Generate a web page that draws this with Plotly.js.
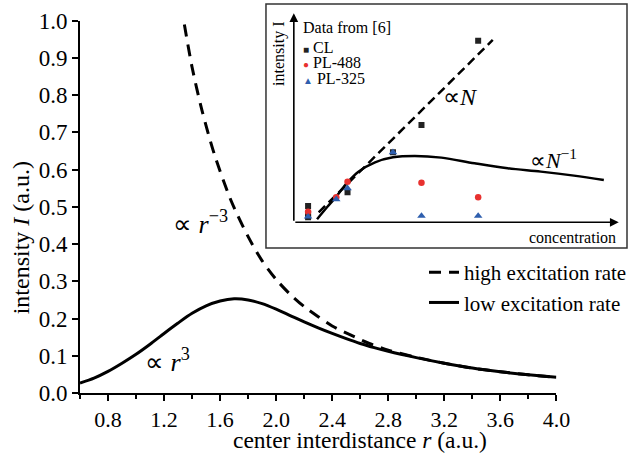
<!DOCTYPE html>
<html>
<head>
<meta charset="utf-8">
<script src="https://cdn.plot.ly/plotly-3.0.1.min.js"></script>
<style>html,body{margin:0;padding:0;background:#fff}#chart{width:632px;height:454px}</style>
</head>
<body>
<div id="chart"></div>
<script>
// ---- main chart data ----
const lowR = [0.60, 0.70, 0.80, 0.90, 1.00, 1.10, 1.20, 1.30, 1.40, 1.50, 1.60, 1.70, 1.80, 1.90, 2.00, 2.10, 2.20, 2.30, 2.40, 2.50, 2.60, 2.70, 2.80, 3.00, 3.20, 3.40, 3.60, 3.80, 4.00];
const lowI = [0.027, 0.040, 0.058, 0.080, 0.104, 0.131, 0.160, 0.188, 0.214, 0.234, 0.247, 0.253, 0.250, 0.240, 0.225, 0.208, 0.191, 0.175, 0.160, 0.146, 0.133, 0.122, 0.112, 0.095, 0.080, 0.067, 0.057, 0.049, 0.042];
const highR = [1.345, 1.40, 1.47, 1.56, 1.68, 1.80, 1.90, 2.00, 2.10, 2.20, 2.30, 2.40, 2.53, 2.66, 2.80, 3.00, 3.20, 3.40, 3.60, 3.80, 4.00];
const highI = [0.99, 0.875, 0.76, 0.64, 0.515, 0.42, 0.355, 0.305, 0.265, 0.232, 0.205, 0.180, 0.156, 0.134, 0.115, 0.096, 0.080, 0.067, 0.057, 0.049, 0.042];
const xTickVals = [0.8, 1.2, 1.6, 2.0, 2.4, 2.8, 3.2, 3.6, 4.0];
const yTickVals = [0.0, 0.1, 0.2, 0.3, 0.4, 0.5, 0.6, 0.7, 0.8, 0.9, 1.0];

// ---- inset data (arbitrary concentration / intensity units) ----
const clX = [0.43, 0.43, 0.43, 1.62, 2.99, 3.85, 5.56];
const clY = [0.49, 0.24, 0.15, 0.90, 2.10, 2.92, 5.45];
const pl488X = [0.43, 1.28, 1.62, 3.85, 5.56];
const pl488Y = [0.32, 0.75, 1.22, 1.19, 0.75];
const pl325X = [0.43, 1.28, 1.62, 2.99, 3.85, 5.56];
const pl325Y = [0.17, 0.69, 1.02, 2.10, 0.19, 0.19];
const linX = [0.75, 6.00];
const linY = [0.30, 5.47];
const satX = [0.70, 1.00, 1.28, 1.62, 1.95, 2.45, 2.99, 3.65, 4.45, 5.45, 6.45, 7.45, 8.45, 9.35];
const satY = [0.09, 0.45, 0.77, 1.20, 1.52, 1.80, 1.95, 1.99, 1.94, 1.77, 1.62, 1.52, 1.40, 1.27];

const FONT = 'Liberation Serif, Times New Roman, serif';
const RED = '#e8312f', BLUE = '#2f5fae', BLK = '#222222';

const traces = [
  {x: highR, y: highI, mode: 'lines', name: 'high excitation rate', line: {color: '#000', width: 3, dash: '12px,8px', shape: 'spline', smoothing: 0.8}, xaxis: 'x', yaxis: 'y'},
  {x: lowR, y: lowI, mode: 'lines', name: 'low excitation rate', line: {color: '#000', width: 3, shape: 'spline', smoothing: 0.8}, xaxis: 'x', yaxis: 'y'},
  {x: linX, y: linY, mode: 'lines', showlegend: false, line: {color: '#000', width: 2.5, dash: '9px,5px'}, xaxis: 'x2', yaxis: 'y2'},
  {x: satX, y: satY, mode: 'lines', showlegend: false, line: {color: '#000', width: 2.5, shape: 'spline'}, xaxis: 'x2', yaxis: 'y2'},
  {x: clX, y: clY, mode: 'markers', name: 'CL', showlegend: false, marker: {symbol: 'square', size: 6, color: BLK}, xaxis: 'x2', yaxis: 'y2'},
  {x: pl488X, y: pl488Y, mode: 'markers', name: 'PL-488', showlegend: false, marker: {symbol: 'circle', size: 6.5, color: RED}, xaxis: 'x2', yaxis: 'y2'},
  {x: pl325X, y: pl325Y, mode: 'markers', name: 'PL-325', showlegend: false, marker: {symbol: 'triangle-up', size: 7.5, color: BLUE}, xaxis: 'x2', yaxis: 'y2'}
];

function px2paperX(p) { return (p - 80) / 550; }
function px2paperY(p) { return (393 - p) / 393; }
function note(px, py, text, size, extra) {
  return Object.assign({xref: 'paper', yref: 'paper', x: px2paperX(px), y: px2paperY(py), xanchor: 'left', yanchor: 'middle', text: text, showarrow: false, font: {family: FONT, size: size, color: '#000'}}, extra || {});
}

const layout = {
  width: 632, height: 454,
  margin: {l: 80, r: 2, t: 0, b: 61},
  paper_bgcolor: '#fff', plot_bgcolor: 'rgba(0,0,0,0)',
  font: {family: FONT, color: '#000', size: 21},
  showlegend: true,
  legend: {x: px2paperX(426), y: px2paperY(252), xanchor: 'left', yanchor: 'top', bgcolor: 'rgba(0,0,0,0)', font: {family: FONT, size: 21, color: '#000'}, tracegroupgap: 0},
  xaxis: {
    domain: [0, 0.8709], range: [0.6, 4.0], showline: true, linewidth: 2, linecolor: '#000',
    ticks: 'outside', ticklen: 6, tickwidth: 2, tickcolor: '#000',
    tickvals: xTickVals, tickformat: '.1f', showgrid: false, zeroline: false,
    tickfont: {family: FONT, size: 22},
    minor: {dtick: 0.2, tick0: 0.6, ticks: 'outside', ticklen: 4, tickwidth: 2, tickcolor: '#000', showgrid: false},
    anchor: 'y'
  },
  yaxis: {
    domain: [0, 0.9473], range: [0, 1.0], showline: true, linewidth: 2, linecolor: '#000',
    ticks: 'outside', ticklen: 6, tickwidth: 2, tickcolor: '#000',
    tickvals: yTickVals, tickformat: '.1f', showgrid: false, zeroline: false,
    tickfont: {family: FONT, size: 23},
    anchor: 'x'
  },
  xaxis2: {domain: [px2paperX(295), px2paperX(621.7)], range: [0, 9.8], anchor: 'y2', showline: false, showticklabels: false, ticks: '', showgrid: false, zeroline: false, fixedrange: true},
  yaxis2: {domain: [px2paperY(222.3), px2paperY(13.3)], range: [0, 6.27], anchor: 'x2', showline: false, showticklabels: false, ticks: '', showgrid: false, zeroline: false, fixedrange: true},
  shapes: [
    {type: 'rect', xref: 'paper', yref: 'paper', x0: px2paperX(267), x1: px2paperX(630), y0: px2paperY(248), y1: px2paperY(4), line: {color: '#333', width: 1.5}, fillcolor: '#fff', layer: 'below'}
  ],
  annotations: [
    // main axis titles
    note(362, 440, 'center interdistance <i>r</i> (a.u.)', 23.5, {xanchor: 'center'}),
    note(21, 238, 'intensity <i>I</i> (a.u.)', 24, {xanchor: 'center', textangle: -90}),
    // inset axes with arrows
    {xref: 'x2', yref: 'y2', x: 9.8, y: 0, axref: 'x2', ayref: 'y2', ax: 0, ay: 0, text: '', showarrow: true, arrowhead: 2, arrowsize: 1.1, arrowwidth: 1.6, arrowcolor: '#000'},
    {xref: 'x2', yref: 'y2', x: 0, y: 6.27, axref: 'x2', ayref: 'y2', ax: 0, ay: 0, text: '', showarrow: true, arrowhead: 2, arrowsize: 1.1, arrowwidth: 1.6, arrowcolor: '#000'},
    note(280, 54, 'intensity I', 16, {xanchor: 'center', textangle: -90}),
    note(621, 237, 'concentration', 16, {xanchor: 'right'}),
    // inset legend
    note(302, 28, 'Data from [6]', 16),
    note(302, 47.5, '<span style="color:' + BLK + ';font-size:10px">■</span> CL', 16),
    note(302, 62.5, '<span style="color:' + RED + ';font-size:10px">●</span> PL-488', 16),
    note(302, 78.5, '<span style="color:' + BLUE + ';font-size:10px">▲</span> PL-325', 16),
    // proportionality labels
    note(443, 97, '∝<i>N</i>', 24),
    note(530, 159, '∝<i>N</i><sup>−1</sup>', 22),
    note(171, 222, '∝ <i>r</i><sup>−3</sup>', 26),
    note(143, 360, '∝ <i>r</i><sup>3</sup>', 26)
  ]
};

Plotly.newPlot('chart', traces, layout, {displayModeBar: false, staticPlot: true});
</script>
</body>
</html>
